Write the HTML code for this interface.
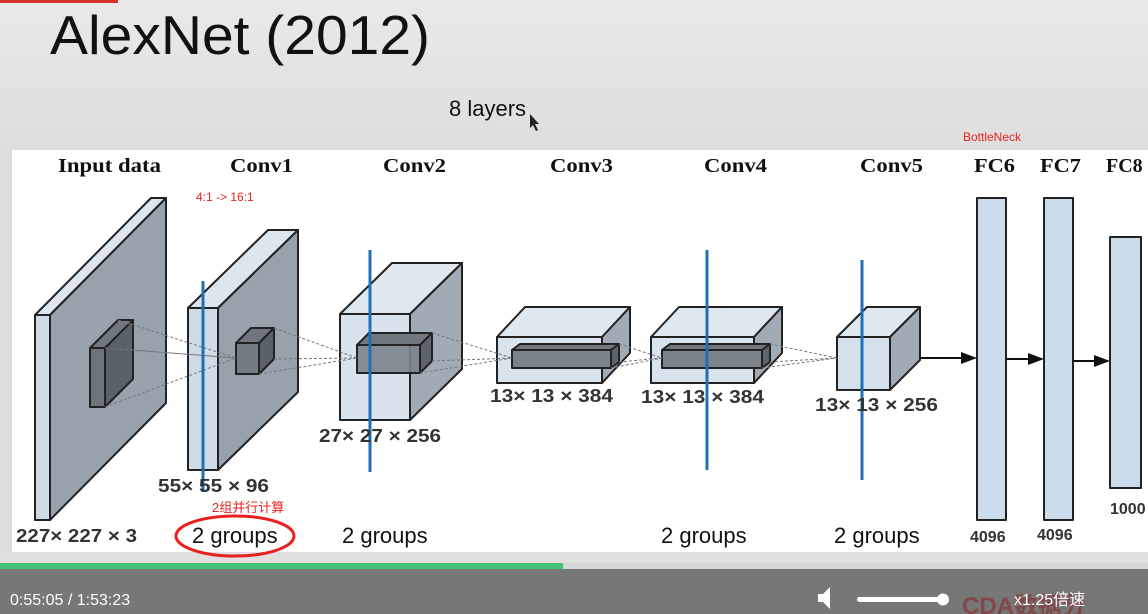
<!DOCTYPE html>
<html><head><meta charset="utf-8">
<style>
html,body{margin:0;padding:0;width:1148px;height:614px;overflow:hidden;background:#e6e6e6;font-family:"Liberation Sans","Noto Sans CJK SC",sans-serif}
svg{display:block}
</style></head>
<body>
<svg width="1148" height="614" viewBox="0 0 1148 614">
<defs>
<linearGradient id="bg" x1="0" y1="0" x2="0" y2="1"><stop offset="0" stop-color="#e9e9e9"/><stop offset="1" stop-color="#dedede"/></linearGradient>
<marker id="ar" markerWidth="8" markerHeight="8" refX="7" refY="4" orient="auto"><path d="M0,1 L8,4 L0,7z" fill="#111"/></marker>
</defs>
<rect x="0" y="0" width="1148" height="150" fill="url(#bg)"/>
<rect x="0" y="0" width="118" height="3" fill="#d8322c"/>
<text x="50" y="54" font-size="55" textLength="380" lengthAdjust="spacingAndGlyphs" fill="#111">AlexNet (2012)</text>
<text x="449" y="116" font-size="22" fill="#111">8 layers</text>
<path d="M530,114 l0,14 l3,-3 l3,6 l2,-1 l-3,-6 l4,0z" fill="#222"/>
<text x="963" y="141" font-size="12" fill="#e8221e">BottleNeck</text>
<rect x="12" y="150" width="1136" height="402" fill="#fff"/>
<rect x="0" y="150" width="12" height="402" fill="#dcdcdc"/>
<rect x="0" y="552" width="1148" height="12" fill="#e0e0e0"/>

<g font-family="Liberation Serif,serif" font-weight="bold" font-size="20" fill="#111">
<text x="58" y="172" textLength="103" lengthAdjust="spacingAndGlyphs">Input data</text>
<text x="230" y="172" textLength="63" lengthAdjust="spacingAndGlyphs">Conv1</text>
<text x="383" y="172" textLength="63" lengthAdjust="spacingAndGlyphs">Conv2</text>
<text x="550" y="172" textLength="63" lengthAdjust="spacingAndGlyphs">Conv3</text>
<text x="704" y="172" textLength="63" lengthAdjust="spacingAndGlyphs">Conv4</text>
<text x="860" y="172" textLength="63" lengthAdjust="spacingAndGlyphs">Conv5</text>
<text x="974" y="172" textLength="41" lengthAdjust="spacingAndGlyphs">FC6</text>
<text x="1040" y="172" textLength="41" lengthAdjust="spacingAndGlyphs">FC7</text>
<text x="1106" y="172">FC8</text>
</g>
<text x="196" y="201" font-size="12" fill="#e8221e">4:1 -&gt; 16:1</text>

<g stroke="#222" stroke-width="2" stroke-linejoin="round">
<polygon points="35,315 151,198 166,198 50,315" fill="#dde6ee"/>
<polygon points="50,315 166,198 166,403 50,520" fill="#97a2ad"/>
<rect x="35" y="315" width="15" height="205" fill="#cfdce8"/>
<polygon points="90,348 118,320 133,320 105,348" fill="#6f7780"/>
<polygon points="105,348 133,320 133,379 105,407" fill="#59616a"/>
<rect x="90" y="348" width="15" height="59" fill="#6c747d"/>
<polygon points="188,308 268,230 298,230 218,308" fill="#dde6ee"/>
<polygon points="218,308 298,230 298,392 218,470" fill="#97a2ad"/>
<rect x="188" y="308" width="30" height="162" fill="#cfdce8"/>
<polygon points="236,343 251,328 274,328 259,343" fill="#6f7780"/>
<polygon points="259,343 274,328 274,359 259,374" fill="#59616a"/>
<rect x="236" y="343" width="23" height="31" fill="#737b84"/>
<polygon points="340,314 392,263 462,263 410,314" fill="#dfe7ef"/>
<polygon points="410,314 462,263 462,369 410,420" fill="#a0abb6"/>
<rect x="340" y="314" width="70" height="106" fill="#d4e0eb" fill-opacity="0.9"/>
<polygon points="357,345 369,333 432,333 420,345" fill="#707880"/>
<polygon points="420,345 432,333 432,361 420,373" fill="#5c646c"/>
<rect x="357" y="345" width="63" height="28" fill="#7b838b" fill-opacity="0.9"/>
<polygon points="497,337 525,307 630,307 602,337" fill="#dfe7ef"/>
<polygon points="602,337 630,307 630,353 602,383" fill="#a0abb6"/>
<rect x="497" y="337" width="105" height="46" fill="#d4e0eb" fill-opacity="0.9"/>
<polygon points="512,350 520,344 619,344 611,350" fill="#707880"/>
<polygon points="611,350 619,344 619,362 611,368" fill="#5c646c"/>
<rect x="512" y="350" width="99" height="18" fill="#7b838b"/>
<polygon points="651,337 679,307 782,307 754,337" fill="#dfe7ef"/>
<polygon points="754,337 782,307 782,353 754,383" fill="#a0abb6"/>
<rect x="651" y="337" width="103" height="46" fill="#d4e0eb" fill-opacity="0.9"/>
<polygon points="662,350 670,344 770,344 762,350" fill="#707880"/>
<polygon points="762,350 770,344 770,362 762,368" fill="#5c646c"/>
<rect x="662" y="350" width="100" height="18" fill="#7b838b"/>
<polygon points="837,337 867,307 920,307 890,337" fill="#dfe7ef"/>
<polygon points="890,337 920,307 920,360 890,390" fill="#a0abb6"/>
<rect x="837" y="337" width="53" height="53" fill="#d4e0eb"/>
<rect x="977" y="198" width="29" height="322" fill="#cddceb"/>
<rect x="1044" y="198" width="29" height="322" fill="#cddceb"/>
<rect x="1110" y="237" width="31" height="251" fill="#cddceb"/>
</g>

<g stroke="#777" stroke-width="1" stroke-dasharray="3,2" fill="none">
<path d="M118,320 L236,358 M133,350 L236,358 M105,348 L236,358 M105,407 L236,358"/>
<path d="M274,328 L357,358 M274,359 L357,358 M259,374 L357,358"/>
<path d="M432,333 L512,358 M432,361 L512,358 M420,373 L512,358"/>
<path d="M619,344 L662,358 M619,362 L662,358 M611,368 L662,358"/>
<path d="M770,344 L837,358 M770,362 L837,358 M762,368 L837,358"/>
</g>
<g stroke="#111" stroke-width="2">
<line x1="920" y1="358" x2="975" y2="358" marker-end="url(#ar)"/>
<line x1="1006" y1="359" x2="1042" y2="359" marker-end="url(#ar)"/>
<line x1="1073" y1="361" x2="1108" y2="361" marker-end="url(#ar)"/>
</g>

<g stroke="#1f6fb8" stroke-width="3">
<line x1="203" y1="281" x2="203" y2="492"/>
<line x1="370" y1="250" x2="370" y2="472"/>
<line x1="707" y1="250" x2="707" y2="470"/>
<line x1="862" y1="260" x2="862" y2="480"/>
</g>

<g font-size="18" font-weight="bold" fill="#333">
<text x="16" y="542" textLength="121" lengthAdjust="spacingAndGlyphs">227× 227 × 3</text>
<text x="158" y="492" textLength="111" lengthAdjust="spacingAndGlyphs">55× 55 × 96</text>
<text x="319" y="442" textLength="122" lengthAdjust="spacingAndGlyphs">27× 27 × 256</text>
<text x="490" y="402" textLength="123" lengthAdjust="spacingAndGlyphs">13× 13 × 384</text>
<text x="641" y="403" textLength="123" lengthAdjust="spacingAndGlyphs">13× 13 × 384</text>
<text x="815" y="411" textLength="123" lengthAdjust="spacingAndGlyphs">13× 13 × 256</text>
<text x="970" y="542" font-size="16">4096</text>
<text x="1037" y="540" font-size="16">4096</text>
<text x="1110" y="514" font-size="16">1000</text>
</g>
<text x="212" y="512" font-size="13" fill="#e8221e">2组并行计算</text>
<g font-size="22" fill="#111">
<text x="192" y="543">2 groups</text>
<text x="342" y="543">2 groups</text>
<text x="661" y="543">2 groups</text>
<text x="834" y="543">2 groups</text>
</g>
<ellipse cx="235" cy="536" rx="59" ry="20" fill="none" stroke="#e8221e" stroke-width="3"/>

<rect x="0" y="563" width="1148" height="6" fill="#d6d6d6"/>
<rect x="0" y="563" width="563" height="6" fill="#45c27a"/>
<rect x="0" y="569" width="1148" height="45" fill="#777"/>
<text x="10" y="605" font-size="16" fill="#fff">0:55:05 / 1:53:23</text>
<path d="M818,594 h5 l7,-7 v22 l-7,-7 h-5z" fill="#fff"/>
<rect x="857" y="597" width="88" height="5" rx="2.5" fill="#fff"/>
<circle cx="943" cy="599.5" r="6" fill="#fff"/>
<text x="962" y="614" font-size="24" font-weight="bold" fill="#8a2a2a" opacity="0.6">CDA数据分</text>
<text x="1014" y="605" font-size="16" fill="#fff">x1.25倍速</text>
</svg>
</body></html>
